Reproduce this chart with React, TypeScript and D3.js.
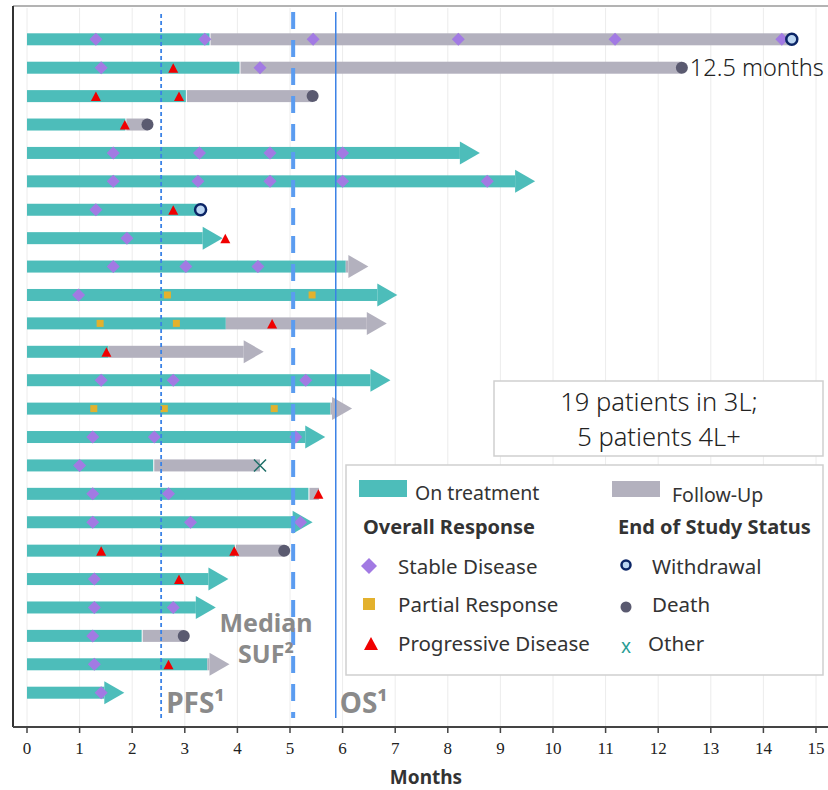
import * as d3 from "d3";

// patient rows, top to bottom
const patients = d3.range(1, 25).map(String);
const treatEnd = [3.47, 4.04, 3.02, 1.87, 8.61, 9.66, 3.3, 3.72, 6.06, 7.04, 3.78, 1.55, 6.91, 5.77, 5.67, 2.4, 5.35, 5.43, 3.95, 3.83, 3.59, 2.18, 3.43, 1.85];
const followEnd = [14.54, 12.45, 5.43, 2.29, null, null, null, null, 6.49, null, 6.84, 4.5, null, 6.18, null, 4.43, 5.55, null, 4.89, null, null, 2.98, 3.85, null];
const endStatus = ["withdrawal", "death", "death", "death", "ongoing", "ongoing", "withdrawal", "ongoing", "ongoing", "ongoing", "ongoing", "ongoing", "ongoing", "ongoing", "ongoing", "other", "none", "ongoing", "death", "ongoing", "ongoing", "death", "ongoing", "ongoing"];
const stableDisease = [
  [1.31, 3.38, 5.44, 8.2, 11.18, 14.35], [1.41, 4.43], [], [], [1.64, 3.28, 4.62, 6.0],
  [1.64, 3.25, 4.62, 6.0, 8.75], [1.31], [1.9], [1.64, 3.02, 4.39], [0.98], [], [],
  [1.41, 2.78, 5.3], [], [1.25, 2.42, 5.11], [1.0], [1.25, 2.69], [1.25, 3.11, 5.2], [],
  [1.28], [1.28, 2.78], [1.25], [1.28], [1.41],
];
const partialResponse = [
  [], [], [], [], [], [], [], [], [], [2.67, 5.42], [1.39, 2.84], [], [], [1.27, 2.61, 4.7],
  [], [], [], [], [], [], [], [], [], [],
];
const progressiveDisease = [
  [], [2.78], [1.31, 2.89], [1.86], [], [], [2.78], [3.77], [], [], [4.66], [1.51], [], [],
  [], [], [5.54], [], [1.41, 3.94], [2.89], [], [], [2.69], [],
];
const monthTicks = d3.range(0, 16);
const pfsMedian = 2.55;
const sufMedian = 5.06;
const osMedian = 5.87;
const maxFollowLabel = "12.5 months";

const TEAL = "#4dbdba";
const GRAY = "#b3b1be";
const PURPLE = "#a27ae3";
const YELLOW = "#e3b12d";
const RED = "#f00000";
const DEATH = "#5a5a70";
const WD_STROKE = "#0b2566";
const WD_FILL = "#bcd6f2";
const REF_BLUE = "#3b82e6";
const LABEL_GRAY = "#8a8a8a";
const FONT = "'Noto Sans', sans-serif";

const W = 828;
const H = 790;
const BAR_H = 12;
const HEAD_L = 20;
const HEAD_H = 23;

const diamond = (r: number) => `M0,${-r}L${r},0L0,${r}L${-r},0Z`;
const triangle = "M0,-5.5L5,4L-5,4Z";

export default function App() {
  const x = d3.scaleLinear().domain([0, 15]).range([27, 816]);
  const y = d3.scalePoint<string>().domain(patients).range([39.3, 692.7]);
  const plotTop = 6;
  const axisY = 727;

  const segments = patients.map((p, i) => {
    const yc = y(p)!;
    const segs: { x0: number; x1: number; color: string }[] = [
      { x0: x(0), x1: x(treatEnd[i]), color: TEAL },
    ];
    const f = followEnd[i];
    if (f !== null) segs.push({ x0: x(treatEnd[i]), x1: x(f), color: GRAY });
    const arrow = endStatus[i] === "ongoing";
    return { yc, segs, arrow };
  });

  return (
    <svg width={W} height={H} style={{ position: "absolute", left: 0, top: 0, background: "#fff" }}>
      {/* grid */}
      {monthTicks.map((t) => (
        <line key={t} x1={x(t)} x2={x(t)} y1={plotTop + 2} y2={axisY} stroke="#ececec" strokeWidth={1} />
      ))}
      {/* frame */}
      <line x1={13} x2={W} y1={plotTop} y2={plotTop} stroke="#9a9a9a" strokeWidth={1.5} />
      <line x1={13} x2={13} y1={plotTop} y2={axisY} stroke="#333" strokeWidth={2} />

      {/* swimmer bars */}
      {segments.map(({ yc, segs, arrow }, i) => (
        <g key={i}>
          {segs.map((s, j) => {
            const last = j === segs.length - 1;
            if (last && arrow) {
              const hs = Math.max(s.x0, s.x1 - HEAD_L);
              return (
                <g key={j}>
                  {hs > s.x0 && <rect x={s.x0} y={yc - BAR_H / 2} width={hs - s.x0} height={BAR_H} fill={s.color} />}
                  <path d={`M${hs},${yc - HEAD_H / 2}L${s.x1},${yc}L${hs},${yc + HEAD_H / 2}Z`} fill={s.color} />
                </g>
              );
            }
            return (
              <rect key={j} x={s.x0 + (j > 0 ? 1 : 0)} y={yc - BAR_H / 2} width={Math.max(0, s.x1 - s.x0 - (j > 0 ? 1 : 0))} height={BAR_H} fill={s.color} />
            );
          })}
        </g>
      ))}

      {/* response markers */}
      {patients.map((p, i) => (
        <g key={p}>
          {stableDisease[i].map((m, k) => (
            <path key={"s" + k} d={diamond(6.5)} transform={`translate(${x(m)},${y(p)})`} fill={PURPLE} />
          ))}
          {partialResponse[i].map((m, k) => (
            <rect key={"p" + k} x={x(m) - 3.5} y={y(p)! - 3.5} width={7} height={7} fill={YELLOW} />
          ))}
          {progressiveDisease[i].map((m, k) => (
            <path key={"d" + k} d={triangle} transform={`translate(${x(m)},${y(p)! + 1})`} fill={RED} />
          ))}
        </g>
      ))}

      {/* end of study markers */}
      {patients.map((p, i) => {
        const st = endStatus[i];
        const ex = x(followEnd[i] ?? treatEnd[i]);
        const yc = y(p)!;
        if (st === "death") return <circle key={p} cx={ex} cy={yc} r={6} fill={DEATH} />;
        if (st === "withdrawal")
          return <circle key={p} cx={ex} cy={yc} r={5.5} fill={WD_FILL} stroke={WD_STROKE} strokeWidth={2.5} />;
        if (st === "other")
          return (
            <path key={p} d="M-6,-6L6,6M6,-6L-6,6" transform={`translate(${ex},${yc})`} stroke="#1f6f68" strokeWidth={1.5} />
          );
        return null;
      })}

      <text x={x(followEnd[1]!) + 8} y={y("2")! + 8} fontFamily={FONT} fontSize={23.5} fontWeight={300} fill="#222">
        {maxFollowLabel}
      </text>

      {/* median lines */}
      <line x1={x(pfsMedian)} x2={x(pfsMedian)} y1={14} y2={718} stroke={REF_BLUE} strokeWidth={1.8} strokeDasharray="4,3" />
      <line x1={x(sufMedian)} x2={x(sufMedian)} y1={12} y2={718} stroke="#5b9cf0" strokeWidth={4} strokeDasharray="17,11" />
      <line x1={x(osMedian)} x2={x(osMedian)} y1={12} y2={718} stroke={REF_BLUE} strokeWidth={1.5} />

      <text x={x(pfsMedian) + 5} y={713} fontFamily={FONT} fontSize={28} fontWeight={700} fill={LABEL_GRAY}>PFS¹</text>
      <text x={x(osMedian) + 4} y={713} fontFamily={FONT} fontSize={28} fontWeight={700} fill={LABEL_GRAY}>OS¹</text>
      <text x={266} y={632} textAnchor="middle" fontFamily={FONT} fontSize={25} fontWeight={700} fill={LABEL_GRAY}>Median</text>
      <text x={266} y={663} textAnchor="middle" fontFamily={FONT} fontSize={25} fontWeight={700} fill={LABEL_GRAY}>SUF²</text>

      {/* patient count box */}
      <rect x={494} y={381} width={329} height={75} fill="#fff" stroke="#cfcfcf" strokeWidth={1.5} />
      <text x={659} y={411} textAnchor="middle" fontFamily={FONT} fontSize={25.5} fontWeight={300} fill="#222">19 patients in 3L;</text>
      <text x={659} y={446} textAnchor="middle" fontFamily={FONT} fontSize={25.5} fontWeight={300} fill="#222">5 patients 4L+</text>

      {/* legend */}
      <g fontFamily={FONT} fill="#333">
        <rect x={346} y={465} width={477} height={210} fill="#fff" stroke="#cfcfcf" strokeWidth={1.5} />
        <rect x={359} y={480} width={48} height={17} fill={TEAL} />
        <text x={415} y={500} fontSize={19.5}>On treatment</text>
        <rect x={612} y={481} width={48} height={16} fill={GRAY} />
        <text x={672} y={502} fontSize={19.5}>Follow-Up</text>
        <text x={363} y={534} fontSize={20} fontWeight={700} fill="#333">Overall Response</text>
        <text x={618} y={534} fontSize={20} fontWeight={700} fill="#333">End of Study Status</text>
        <path d={diamond(8)} transform="translate(369,566)" fill={PURPLE} />
        <text x={398} y={574} fontSize={20.5}>Stable Disease</text>
        <rect x={363} y={598} width={12} height={12} fill={YELLOW} />
        <text x={398} y={612} fontSize={20.5}>Partial Response</text>
        <path d="M0,-7L7,6L-7,6Z" transform="translate(371,644)" fill={RED} />
        <text x={398} y={651} fontSize={20.5}>Progressive Disease</text>
        <circle cx={626} cy={565} r={4.5} fill={WD_FILL} stroke={WD_STROKE} strokeWidth={2.5} />
        <text x={652} y={574} fontSize={20.5}>Withdrawal</text>
        <circle cx={626} cy={607} r={5.5} fill={DEATH} />
        <text x={652} y={612} fontSize={20.5}>Death</text>
        <text x={626} y={653} fontSize={19} textAnchor="middle" fill="#2a9d94">x</text>
        <text x={648} y={651} fontSize={20.5}>Other</text>
      </g>

      {/* x axis */}
      <line x1={13} x2={W} y1={axisY} y2={axisY} stroke="#444" strokeWidth={2} />
      {monthTicks.map((t) => (
        <g key={t}>
          <line x1={x(t)} x2={x(t)} y1={axisY} y2={axisY + 6} stroke="#444" strokeWidth={1.5} />
          <text x={x(t)} y={754} textAnchor="middle" fontFamily="'Liberation Serif', serif" fontSize={17} fill="#222">
            {t}
          </text>
        </g>
      ))}
      <text x={426} y={784} textAnchor="middle" fontFamily={FONT} fontSize={19} fontWeight={700} fill="#333">Months</text>
    </svg>
  );
}
